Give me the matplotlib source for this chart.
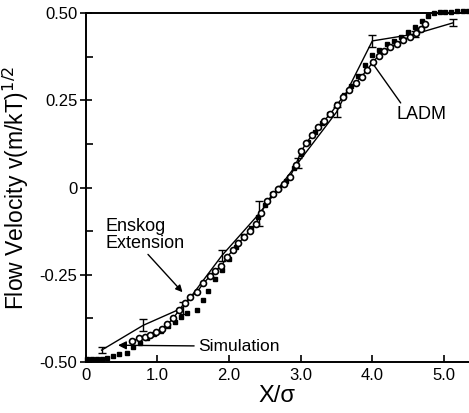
import matplotlib
matplotlib.use("Agg")
import matplotlib.pyplot as plt
from matplotlib.ticker import MultipleLocator

plt.rcParams['font.family'] = ['Liberation Sans', 'DejaVu Sans']

# LADM (with error bars)
ladm_x = [0.22, 0.80, 1.35, 1.90, 2.42, 2.96, 3.50, 4.00, 4.60, 5.13]
ladm_y = [-0.466, -0.395, -0.345, -0.195, -0.075, 0.070, 0.216, 0.420, 0.440, 0.472]
ladm_err = [0.008, 0.017, 0.017, 0.017, 0.036, 0.015, 0.015, 0.017, 0.009, 0.010]

# Enskog extension (open circles)
ensk_x = [0.65, 0.74, 0.82, 0.90, 0.98, 1.06, 1.14, 1.22, 1.30, 1.38, 1.46, 1.55,
          1.64, 1.73, 1.81, 1.89, 1.97, 2.05, 2.13, 2.21, 2.29, 2.37, 2.45, 2.53,
          2.61, 2.69, 2.77, 2.85, 2.93, 3.01, 3.08, 3.16, 3.24, 3.32, 3.41, 3.50,
          3.59, 3.68, 3.77, 3.85, 3.93, 4.01, 4.09, 4.17, 4.25, 4.34, 4.43, 4.52,
          4.61, 4.68, 4.74]
ensk_y = [-0.440, -0.432, -0.428, -0.424, -0.415, -0.405, -0.392, -0.375, -0.352,
          -0.330, -0.315, -0.300, -0.275, -0.255, -0.238, -0.225, -0.200, -0.180,
          -0.160, -0.142, -0.125, -0.105, -0.072, -0.040, -0.020, -0.005, 0.010,
          0.030, 0.065, 0.105, 0.128, 0.150, 0.172, 0.190, 0.210, 0.235, 0.260,
          0.280, 0.300, 0.318, 0.338, 0.360, 0.378, 0.392, 0.402, 0.412, 0.422,
          0.432, 0.442, 0.455, 0.468]

# Simulation (small filled squares)
sim_x = [0.02, 0.09, 0.16, 0.23, 0.30, 0.38, 0.46, 0.57, 0.66, 0.75, 0.85, 0.95,
         1.05, 1.15, 1.25, 1.33, 1.41, 1.55, 1.63, 1.70, 1.80, 1.90, 2.00, 2.10,
         2.20, 2.30, 2.40, 2.50, 2.60, 2.70, 2.80, 2.90, 3.00, 3.10, 3.20, 3.30,
         3.40, 3.50, 3.60, 3.70, 3.80, 3.90, 4.00, 4.10, 4.20, 4.30, 4.40, 4.50,
         4.60, 4.70, 4.78, 4.86, 4.94, 5.02, 5.10, 5.18, 5.26, 5.34]
sim_y = [-0.490, -0.490, -0.490, -0.490, -0.489, -0.482, -0.477, -0.474, -0.457,
         -0.446, -0.432, -0.420, -0.410, -0.398, -0.384, -0.372, -0.360, -0.350,
         -0.322, -0.298, -0.262, -0.235, -0.205, -0.170, -0.140, -0.115, -0.085,
         -0.050, -0.020, 0.000, 0.020, 0.055, 0.095, 0.130, 0.160, 0.185, 0.210,
         0.240, 0.265, 0.290, 0.320, 0.350, 0.380, 0.395, 0.410, 0.420, 0.432,
         0.445, 0.460, 0.478, 0.492, 0.500, 0.502, 0.503, 0.504, 0.505, 0.505, 0.505]

xticks = [0, 1.0, 2.0, 3.0, 4.0, 5.0]
xticklabels = ["0", "1.0", "2.0", "3.0", "4.0", "5.0"]
yticks = [-0.50, -0.25, 0, 0.25, 0.50]
yticklabels = ["-0.50", "-0.25", "0", "0.25", "0.50"]

fig = plt.figure(figsize=(4.69, 4.13), dpi=100)
ax = fig.add_axes([0.183, 0.1235, 0.817, 0.845])
ax.set_xlim(0, 5.35)
ax.set_ylim(-0.5, 0.5)

# Simulation
ax.plot(sim_x, sim_y, linestyle='none', marker='s', markersize=2.6,
        color='black', zorder=2, clip_on=False)
# Enskog
ax.plot(ensk_x, ensk_y, linestyle='-', linewidth=1.0, marker='o', markersize=4.3,
        markerfacecolor='white', markeredgecolor='black', markeredgewidth=1.2,
        color='black', zorder=4)
# LADM
ax.errorbar(ladm_x, ladm_y, yerr=ladm_err, color='black', linewidth=1.0,
            elinewidth=1.0, capsize=3, capthick=1.0, zorder=3)

# Annotations
ax.annotate("Enskog\nExtension", xy=(1.35, -0.30), xytext=(0.28, -0.135),
            fontsize=13, ha='left', va='center', linespacing=1.0,
            arrowprops=dict(arrowstyle='-|>', color='black', lw=1.0,
                            mutation_scale=10, shrinkA=0, shrinkB=0,
                            relpos=(0.5, 0.0)), zorder=1)
ax.annotate("Simulation", xy=(0.45, -0.452), xytext=(1.57, -0.455),
            fontsize=12.5, ha='left', va='center',
            arrowprops=dict(arrowstyle='-|>', color='black', lw=1.0,
                            mutation_scale=12, shrinkA=1, shrinkB=0),
            zorder=1)
ax.annotate("LADM", xy=(4.0, 0.357), xytext=(4.34, 0.21),
            fontsize=13, ha='left', va='center',
            arrowprops=dict(arrowstyle='-', color='black', lw=1.0,
                            shrinkA=0, shrinkB=0, relpos=(0.12, 1.0)),
            zorder=1)

ax.set_xticks(xticks)
ax.set_xticklabels(xticklabels)
ax.set_yticks(yticks)
ax.set_yticklabels(yticklabels)
ax.yaxis.set_minor_locator(MultipleLocator(0.125))
ax.tick_params(axis='x', which='major', direction='in', length=5, width=1.2,
               labelsize=12, pad=4)
ax.tick_params(axis='y', which='major', direction='inout', length=8, width=1.2,
               labelsize=12, pad=2)
ax.tick_params(axis='y', which='minor', direction='in', length=5, width=1.2)

for side in ['left', 'bottom', 'top']:
    ax.spines[side].set_linewidth(1.4)
ax.spines['right'].set_visible(False)

ax.set_xlabel("X/σ", fontsize=17, labelpad=2)
ax.set_ylabel("Flow Velocity v(m/kT)$^{1/2}$", fontsize=16.5, labelpad=6)

fig.savefig("out.png", dpi=100)
